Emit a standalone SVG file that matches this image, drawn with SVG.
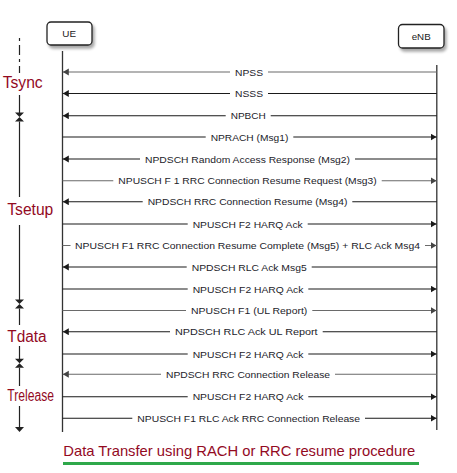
<svg xmlns="http://www.w3.org/2000/svg" width="457" height="473" viewBox="0 0 457 473">
<style>
.box{fill:#fff;stroke:#222;stroke-width:1.3}
.bt{font-family:"Liberation Sans",Arial,sans-serif;font-size:8.4px;fill:#222;text-anchor:middle}
.life{stroke:#333;stroke-width:1.3;fill:none}
.m{fill:none;stroke:#1a1a1a;stroke-width:1.1}
.g{stroke:#6a6a6a}
.lb{font-family:"Liberation Sans",Arial,sans-serif;font-size:8.8px;fill:#1c1c2a;text-anchor:middle}
.ph{font-family:"Liberation Sans",Arial,sans-serif;font-size:16px;fill:#930a1f;text-anchor:middle}
.tl{stroke:#222;stroke-width:1.2;fill:none}
.tk{fill:#222}
</style>
<defs>
<filter id="sh" x="-20%" y="-20%" width="150%" height="180%">
<feGaussianBlur in="SourceAlpha" stdDeviation="1.4"/>
<feOffset dx="2" dy="3" result="o"/>
<feComponentTransfer><feFuncA type="linear" slope="0.35"/></feComponentTransfer>
<feMerge><feMergeNode/><feMergeNode in="SourceGraphic"/></feMerge>
</filter>
<marker id="ah" markerUnits="userSpaceOnUse" markerWidth="7" markerHeight="8" refX="6" refY="3.5" orient="auto">
<path d="M0,0 L6,3.5 L0,7 z" fill="#1a1a1a"/>
</marker>
<marker id="ahg" markerUnits="userSpaceOnUse" markerWidth="7" markerHeight="8" refX="6" refY="3.5" orient="auto">
<path d="M0,0 L6,3.5 L0,7 z" fill="#444"/>
</marker>
</defs>
<rect width="457" height="473" fill="#fff"/>

<g id="UE">
<rect class="box" x="47" y="22" width="45" height="23" rx="4" filter="url(#sh)"/>
<text class="bt" x="69.2" y="37.3" textLength="13.7" lengthAdjust="spacingAndGlyphs">UE</text>
<line class="life" x1="62.5" y1="51" x2="62.5" y2="432"/>
</g>
<g id="eNB">
<rect class="box" x="398.5" y="24.5" width="45.5" height="23.5" rx="4" filter="url(#sh)"/>
<text class="bt" x="421.2" y="39.5" textLength="19" lengthAdjust="spacingAndGlyphs">eNB</text>
<line class="life" x1="436.8" y1="65" x2="436.8" y2="430"/>
</g>

<g id="phases">
<line class="tl" x1="19.5" y1="38" x2="19.5" y2="73" stroke-dasharray="3,4,10,4"/>
<text class="ph" x="22.7" y="87.5" textLength="40" lengthAdjust="spacingAndGlyphs">Tsync</text>
<line class="tl" x1="19.5" y1="95" x2="19.5" y2="113"/>
<path class="tk" d="M15,112.5 L24,112.5 L19.5,117 z M15,121.5 L24,121.5 L19.5,117 z"/>
<line class="tl" x1="19.5" y1="121.5" x2="19.5" y2="197"/>
<text class="ph" x="30.3" y="215" textLength="46" lengthAdjust="spacingAndGlyphs">Tsetup</text>
<line class="tl" x1="19.5" y1="225" x2="19.5" y2="300"/>
<path class="tk" d="M15,299.5 L24,299.5 L19.5,304 z M15,308.5 L24,308.5 L19.5,304 z"/>
<line class="tl" x1="19.5" y1="308.5" x2="19.5" y2="325"/>
<text class="ph" x="27" y="341.7" textLength="39.4" lengthAdjust="spacingAndGlyphs">Tdata</text>
<line class="tl" x1="19.5" y1="346" x2="19.5" y2="359"/>
<path class="tk" d="M15,358.8 L24,358.8 L19.5,363.3 z M15,367.8 L24,367.8 L19.5,363.3 z"/>
<line class="tl" x1="19.5" y1="367.8" x2="19.5" y2="386"/>
<text class="ph" x="30.7" y="400.7" textLength="46.7" lengthAdjust="spacingAndGlyphs">Trelease</text>
<line class="tl" x1="19.5" y1="406" x2="19.5" y2="428"/>
<path class="tk" d="M15,427 L24,427 L19.5,432 z"/>
</g>

<g id="connectors">
<path class="m g" marker-end="url(#ahg)" d="M436.8,72 H268 M230,72 H62.8"/>
<path class="m" marker-end="url(#ah)" d="M436.8,93.5 H268 M230,93.5 H62.8"/>
<path class="m" marker-end="url(#ah)" d="M436.8,115.7 H270.7 M225.7,115.7 H62.8"/>
<path class="m" marker-end="url(#ah)" d="M62.5,137 H205.7 M293.3,137 H436.5"/>
<path class="m" marker-end="url(#ah)" d="M436.8,159 H355 M140,159 H62.8"/>
<path class="m g" marker-end="url(#ahg)" d="M62.5,180.7 H113.3 M381.7,180.7 H436.5"/>
<path class="m" marker-end="url(#ah)" d="M436.8,201.7 H352.3 M142.7,201.7 H62.8"/>
<path class="m" marker-end="url(#ah)" d="M62.5,224 H187.7 M307.7,224 H436.5"/>
<path class="m g" marker-end="url(#ahg)" d="M62.5,245.5 H70.5 M425,245.5 H436.5"/>
<path class="m" marker-end="url(#ah)" d="M436.8,267 H311.7 M186.7,267 H62.8"/>
<path class="m" marker-end="url(#ah)" d="M62.5,289 H187.7 M308.3,289 H436.5"/>
<path class="m g" marker-end="url(#ahg)" d="M62.5,310.5 H186 M312.3,310.5 H436.5"/>
<path class="m" marker-end="url(#ah)" d="M436.8,331.7 H322.7 M170,331.7 H62.8"/>
<path class="m" marker-end="url(#ah)" d="M62.5,354 H187.7 M308.3,354 H436.5"/>
<path class="m g" marker-end="url(#ahg)" d="M436.8,374.3 H335 M161,374.3 H62.8"/>
<path class="m" marker-end="url(#ah)" d="M62.5,396.7 H187.7 M308.3,396.7 H436.5"/>
<path class="m" marker-end="url(#ah)" d="M62.5,418.3 H132.3 M365,418.3 H436.5"/>

<text class="lb" x="249" y="75.6" textLength="28" lengthAdjust="spacingAndGlyphs">NPSS</text>
<text class="lb" x="249" y="97.1" textLength="28" lengthAdjust="spacingAndGlyphs">NSSS</text>
<text class="lb" x="248.2" y="119.3" textLength="35" lengthAdjust="spacingAndGlyphs">NPBCH</text>
<text class="lb" x="249.5" y="140.6" textLength="77.7" lengthAdjust="spacingAndGlyphs">NPRACH (Msg1)</text>
<text class="lb" x="247.5" y="162.6" textLength="205" lengthAdjust="spacingAndGlyphs">NPDSCH Random Access Response (Msg2)</text>
<text class="lb" x="247.5" y="184.3" textLength="258.3" lengthAdjust="spacingAndGlyphs">NPUSCH F 1 RRC Connection Resume Request (Msg3)</text>
<text class="lb" x="247.5" y="205.3" textLength="199.7" lengthAdjust="spacingAndGlyphs">NPDSCH RRC Connection Resume (Msg4)</text>
<text class="lb" x="247.7" y="227.6" textLength="110" lengthAdjust="spacingAndGlyphs">NPUSCH F2 HARQ Ack</text>
<text class="lb" x="247.5" y="249.1" textLength="345" lengthAdjust="spacingAndGlyphs">NPUSCH F1 RRC Connection Resume Complete (Msg5) + RLC Ack Msg4</text>
<text class="lb" x="249.2" y="270.6" textLength="115" lengthAdjust="spacingAndGlyphs">NPDSCH RLC Ack Msg5</text>
<text class="lb" x="248" y="292.6" textLength="110.7" lengthAdjust="spacingAndGlyphs">NPUSCH F2 HARQ Ack</text>
<text class="lb" x="249.2" y="314.1" textLength="116.3" lengthAdjust="spacingAndGlyphs">NPUSCH F1 (UL Report)</text>
<text class="lb" x="246.3" y="335.3" textLength="142.7" lengthAdjust="spacingAndGlyphs">NPDSCH RLC Ack UL Report</text>
<text class="lb" x="248" y="357.6" textLength="110.7" lengthAdjust="spacingAndGlyphs">NPUSCH F2 HARQ Ack</text>
<text class="lb" x="248" y="377.9" textLength="164" lengthAdjust="spacingAndGlyphs">NPDSCH RRC Connection Release</text>
<text class="lb" x="248" y="400.3" textLength="110.7" lengthAdjust="spacingAndGlyphs">NPUSCH F2 HARQ Ack</text>
<text class="lb" x="248.7" y="421.9" textLength="222.7" lengthAdjust="spacingAndGlyphs">NPUSCH F1 RLC Ack RRC Connection Release</text>
</g>

<g id="title">
<text x="63.3" y="456.3" font-family="'Liberation Sans',Arial,sans-serif" font-size="14.5" fill="#930a1f" textLength="352" lengthAdjust="spacingAndGlyphs">Data Transfer using RACH or RRC resume procedure</text>
<line x1="63" y1="463.5" x2="419" y2="463.5" stroke="#2ea84a" stroke-width="3"/>
</g>
</svg>
